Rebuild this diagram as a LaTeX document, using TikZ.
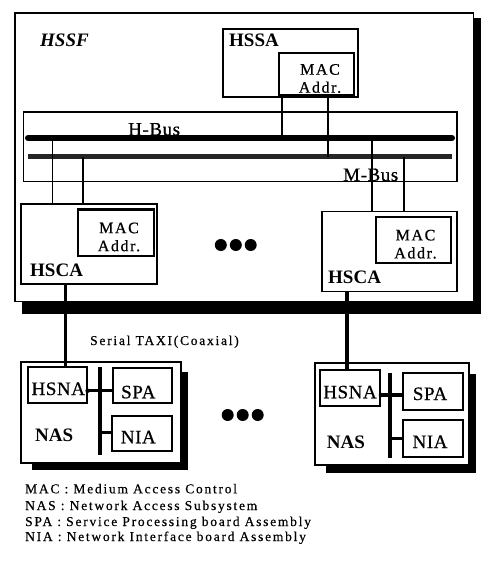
\documentclass[tikz,border=0pt]{standalone}
\usepackage{fontspec}
\setmainfont{Liberation Serif}
\newfontfamily\lsmall[LetterSpace=13,FakeBold=0.5]{Liberation Serif}
\newfontfamily\lmid[LetterSpace=3,FakeBold=0.6]{Liberation Serif}
\newfontfamily\lmac[LetterSpace=10,FakeBold=0.7]{Liberation Serif}
\usetikzlibrary{fit}
\tikzset{
  box/.style={draw, line width=1.9pt, fill=white, inner sep=0pt},
  macbox/.style={box, line width=2.3pt},
  shadowbox/.style={fill=black, inner sep=0pt},
  lbl/.style={inner sep=0pt, anchor=base},
  boldlbl/.style={lbl, anchor=base west, font=\fontsize{19}{19}\selectfont\bfseries},
  midlbl/.style={lbl, font=\fontsize{19}{19}\selectfont\lmid},
  maclbl/.style={inner sep=0pt, anchor=center, align=center, font=\fontsize{16}{18}\selectfont\lmac},
  smalllbl/.style={lbl, anchor=base west, font=\fontsize{13.5}{13.5}\selectfont\lsmall},
  wire/.style={line width=1.9pt},
  thickwire/.style={line width=3.2pt},
  bigdot/.style={circle, fill=black, inner sep=0pt, minimum size=12pt},
  smalldot/.style={circle, fill=black, inner sep=0pt, minimum size=4.5pt},
}
\begin{document}
\begin{tikzpicture}[x=1pt,y=-1pt]
\useasboundingbox (0,0) rectangle (485,587);
% HSSF frame
\node[shadowbox, fit={(22,18) (481,314)}] (hssfshadow) {};
\node[box, fit={(15,13) (473.5,301.5)}] (hssf) {};
\node[boldlbl, font=\fontsize{19}{19}\selectfont\bfseries\itshape] (hssflbl) at (40,46) {HSSF};
% HSSA
\node[box, fit={(223,29) (358,97)}] (hssa) {};
\node[macbox, fit={(279,53) (354,95)}] (hssamac) {};
\node[boldlbl] (hssalbl) at (229,46.5) {HSSA};
\node[maclbl] (hssamactxt) at (320,78.5) {MAC\\Addr.};
% bus frame
\node[box, fit={(23.5,112) (457,181.5)}] (busframe) {};
\node[midlbl, anchor=base west] (hbuslbl) at (128,135.5) {H-Bus};
\node[midlbl, anchor=base west] (mbuslbl) at (343,181) {M-Bus};
\coordinate (hbL) at (28,138); \coordinate (hbR) at (452,138);
\coordinate (mbL) at (28,156.5); \coordinate (mbR) at (452,156.5);
\draw[line width=6pt, line cap=round] (hbL) -- (hbR);
\draw[line width=4.5pt, black!85] (mbL) -- (mbR);
% HSCA boxes
\node[box, fit={(21,204) (157,284)}] (hsca1) {};
\node[macbox, fit={(78,209.5) (154,256)}] (mac1) {};
\node[boldlbl] (hsca1lbl) at (30,276) {HSCA};
\node[maclbl] (mac1txt) at (119,237) {MAC\\Addr.};
\node[box, fit={(322,211.5) (457,291.5)}] (hsca2) {};
\node[macbox, fit={(376,217.3) (450.7,263.3)}] (mac2) {};
\node[boldlbl] (hsca2lbl) at (328,283) {HSCA};
\node[maclbl] (mac2txt) at (415.5,244.2) {MAC\\Addr.};
% connectors to buses
\coordinate (c1) at (282,138); \draw[wire] (hssa.south -| c1) -- (c1);
\coordinate (c2) at (328,156.5); \draw[wire] (hssa.south -| c2) -- (c2);
\coordinate (c3) at (52.5,138); \draw[wire] (c3) -- (hsca1.north -| c3);
\coordinate (c4) at (83,156.5); \draw[wire] (c4) -- (hsca1.north -| c4);
\coordinate (c5) at (372,138); \draw[wire] (c5) -- (hsca2.north -| c5);
\coordinate (c6) at (404,156.5); \draw[wire] (c6) -- (hsca2.north -| c6);
% dots
\node[bigdot] (u1) at (220.8,245) {};
\node[bigdot] (u2) at (235.8,245) {};
\node[bigdot] (u3) at (250.7,245) {};
\node[bigdot] (l1) at (227.7,415) {};
\node[bigdot] (l2) at (242.7,415) {};
\node[bigdot] (l3) at (257.7,415) {};
% serial label
\node[smalllbl] (taxi) at (90,345) {Serial TAXI(Coaxial)};
% NAS 1
\node[shadowbox, fit={(32,372) (188,470)}] (nas1sh) {};
\node[box, fit={(21,362) (181,463)}] (nas1) {};
\node[box, fit={(28.3,366.7) (86.7,402.7)}] (hsna1) {};
\node[box, fit={(113.3,368.3) (171.7,403.3)}] (spa1) {};
\node[box, fit={(111.7,416) (171.7,450.7)}] (nia1) {};
\coordinate (b1t) at (100,367.3); \coordinate (b1b) at (100,455);
\draw[line width=4pt] (b1t) -- (b1b);
\coordinate (j1) at (100,390.7); \coordinate (j2) at (100,432.7);
\draw[line width=3.5pt] (hsna1.east |- j1) -- (spa1.west |- j1);
\draw[line width=3.5pt] (j2) -- (nia1.west |- j2);
\node[smalldot] (k1) at (hsna1.east |- j1) {};
\node[midlbl] (hsna1lbl) at (58.3,395) {HSNA};
\node[midlbl] (spa1lbl) at (138.3,398.3) {SPA};
\node[midlbl] (nia1lbl) at (138.3,443.3) {NIA};
\node[boldlbl] (nas1lbl) at (35,441.5) {NAS};
% NAS 2
\node[shadowbox, fit={(326,374) (476,473)}] (nas2sh) {};
\node[box, fit={(315,363.3) (469,465)}] (nas2) {};
\node[box, fit={(320,370) (380,406)}] (hsna2) {};
\node[box, fit={(403.3,373.3) (463.3,410)}] (spa2) {};
\node[box, fit={(403.3,420) (463.3,456.7)}] (nia2) {};
\coordinate (b2t) at (390,373.3); \coordinate (b2b) at (390,458.3);
\draw[line width=4pt] (b2t) -- (b2b);
\coordinate (j3) at (390,395); \coordinate (j4) at (390,438.3);
\draw[line width=3.5pt] (hsna2.east |- j3) -- (spa2.west |- j3);
\draw[line width=3.5pt] (j4) -- (nia2.west |- j4);
\node[smalldot] (k2) at (hsna2.east |- j3) {};
\node[midlbl] (hsna2lbl) at (350,398.3) {HSNA};
\node[midlbl] (spa2lbl) at (430,400) {SPA};
\node[midlbl] (nia2lbl) at (430,448) {NIA};
\node[boldlbl] (nas2lbl) at (326.7,448) {NAS};
% serial links
\coordinate (t1) at (65.5,320); \coordinate (t2) at (347,320);
\draw[thickwire] (hsca1.south -| t1) -- (hsna1.north -| t1);
\draw[thickwire] (hsca2.south -| t2) -- (hsna2.north -| t2);
% legend
\node[smalllbl] (leg1) at (25,493.3) {MAC : Medium Access Control};
\node[smalllbl] (leg2) at (25,510) {NAS : Network Access Subsystem};
\node[smalllbl] (leg3) at (25,526) {SPA : Service Processing board Assembly};
\node[smalllbl] (leg4) at (25,541) {NIA : Network Interface board Assembly};
\end{tikzpicture}
\end{document}
